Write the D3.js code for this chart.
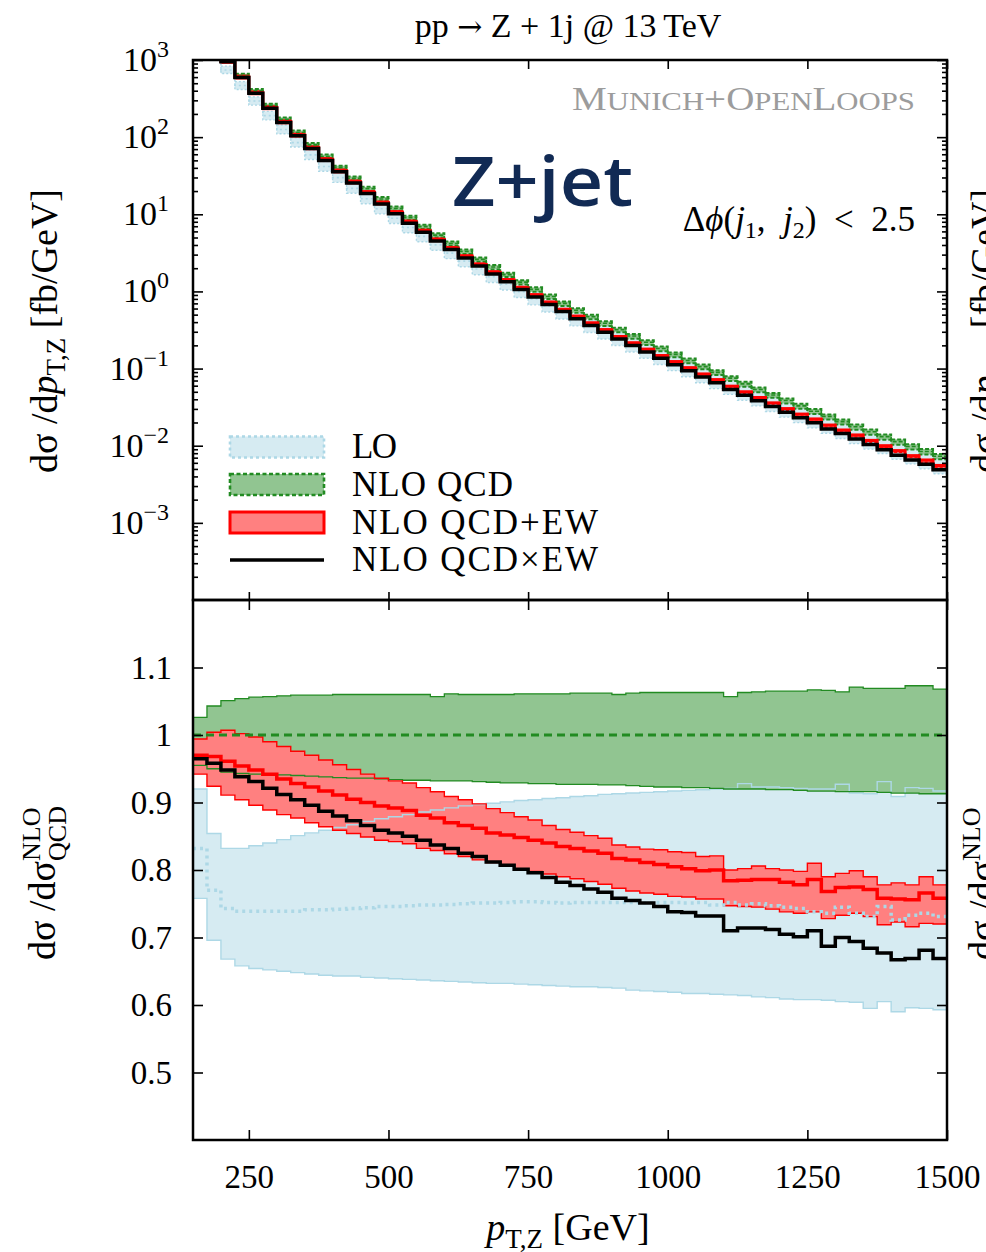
<!DOCTYPE html>
<html>
<head>
<meta charset="utf-8">
<title>pp -> Z + 1j @ 13 TeV</title>
<script src="https://cdn.jsdelivr.net/npm/d3@7"></script>
<style>
  body { margin: 0; background: #ffffff; }
  svg { display: block; }
  text { font-family: "Liberation Serif", "Times New Roman", serif; fill: #000; }
  .axis path.domain { display: none; }
  .axis line { stroke: #000; stroke-width: 1.6; }
  .axis text { font-size: 33px; font-family: "Liberation Serif", serif; fill: #000; }
</style>
</head>
<body>
<script>
// pT,Z bin edges [GeV], 25 GeV bins
const bin_edges = [150, 175, 200, 225, 250, 275, 300, 325, 350, 375,
  400, 425, 450, 475, 500, 525, 550, 575, 600, 625,
  650, 675, 700, 725, 750, 775, 800, 825, 850, 875,
  900, 925, 950, 975, 1000, 1025, 1050, 1075, 1100, 1125,
  1150, 1175, 1200, 1225, 1250, 1275, 1300, 1325, 1350, 1375,
  1400, 1425, 1450, 1475, 1500];

// NLO QCD central prediction dsigma/dpT,Z [fb/GeV]
const nlo_qcd_xs = [2820, 1660, 1000, 631, 398, 257, 170, 115, 79.4, 56.2,
  40.3, 29.2, 21.4, 15.8, 11.9, 9.02, 6.92, 5.37, 4.19, 3.29,
  2.60, 2.07, 1.65, 1.32, 1.064, 0.861, 0.700, 0.571, 0.469, 0.386,
  0.319, 0.264, 0.219, 0.182, 0.152, 0.127, 0.106, 0.0893, 0.0752, 0.0634,
  0.0536, 0.0454, 0.0385, 0.0328, 0.0280, 0.0239, 0.0205, 0.0176, 0.0152, 0.0131,
  0.0113, 0.00975, 0.00843, 0.00731];

// everything below is a ratio to NLO QCD central
const nlo_qcd_up = [1.026, 1.043, 1.051, 1.054, 1.056, 1.057, 1.058, 1.059, 1.059, 1.059,
  1.060, 1.060, 1.060, 1.060, 1.060, 1.060, 1.060, 1.057, 1.061, 1.060,
  1.060, 1.060, 1.060, 1.061, 1.061, 1.061, 1.061, 1.062, 1.062, 1.062,
  1.060, 1.062, 1.063, 1.063, 1.063, 1.063, 1.063, 1.063, 1.057, 1.063,
  1.064, 1.065, 1.065, 1.065, 1.067, 1.066, 1.064, 1.071, 1.069, 1.069,
  1.069, 1.073, 1.073, 1.068];
const nlo_qcd_dn = [0.955, 0.950, 0.945, 0.943, 0.942, 0.942, 0.941, 0.940, 0.939, 0.938,
  0.937, 0.936, 0.936, 0.935, 0.934, 0.933, 0.933, 0.932, 0.932, 0.932,
  0.931, 0.930, 0.929, 0.929, 0.928, 0.928, 0.927, 0.927, 0.927, 0.926,
  0.926, 0.925, 0.924, 0.923, 0.923, 0.922, 0.922, 0.921, 0.920, 0.920,
  0.920, 0.919, 0.919, 0.918, 0.917, 0.917, 0.916, 0.916, 0.916, 0.915,
  0.914, 0.914, 0.913, 0.913];

const lo_ratio = [0.832, 0.770, 0.743, 0.739, 0.739, 0.739, 0.739, 0.739, 0.741, 0.741,
  0.742, 0.743, 0.744, 0.746, 0.746, 0.747, 0.748, 0.748, 0.749, 0.750,
  0.751, 0.751, 0.752, 0.753, 0.753, 0.752, 0.751, 0.752, 0.752, 0.752,
  0.752, 0.752, 0.751, 0.752, 0.752, 0.751, 0.752, 0.748, 0.752, 0.748,
  0.750, 0.747, 0.745, 0.743, 0.738, 0.736, 0.745, 0.736, 0.731, 0.746,
  0.726, 0.733, 0.736, 0.731];
const lo_up = [0.920, 0.854, 0.832, 0.832, 0.836, 0.840, 0.845, 0.851, 0.855, 0.859,
  0.863, 0.867, 0.872, 0.876, 0.879, 0.882, 0.886, 0.889, 0.892, 0.895,
  0.897, 0.899, 0.901, 0.903, 0.904, 0.906, 0.907, 0.909, 0.910, 0.912,
  0.913, 0.914, 0.915, 0.916, 0.917, 0.918, 0.919, 0.920, 0.921, 0.928,
  0.923, 0.923, 0.922, 0.921, 0.920, 0.920, 0.927, 0.914, 0.913, 0.931,
  0.909, 0.922, 0.921, 0.917];
const lo_dn = [0.758, 0.696, 0.668, 0.658, 0.654, 0.652, 0.650, 0.648, 0.646, 0.644,
  0.643, 0.643, 0.641, 0.640, 0.639, 0.638, 0.637, 0.636, 0.635, 0.634,
  0.633, 0.632, 0.632, 0.631, 0.630, 0.629, 0.628, 0.627, 0.627, 0.626,
  0.625, 0.622, 0.621, 0.620, 0.619, 0.617, 0.617, 0.616, 0.615, 0.614,
  0.612, 0.611, 0.609, 0.608, 0.608, 0.607, 0.605, 0.604, 0.595, 0.605,
  0.590, 0.596, 0.595, 0.593];

// NLO QCD+EW (additive)
const qcd_ew_sum = [0.970, 0.968, 0.961, 0.954, 0.948, 0.942, 0.935, 0.928, 0.923, 0.917,
  0.911, 0.905, 0.900, 0.895, 0.892, 0.888, 0.881, 0.877, 0.870, 0.866,
  0.862, 0.855, 0.852, 0.848, 0.844, 0.840, 0.835, 0.832, 0.828, 0.825,
  0.817, 0.815, 0.811, 0.808, 0.805, 0.802, 0.799, 0.800, 0.784, 0.785,
  0.786, 0.786, 0.782, 0.778, 0.786, 0.768, 0.774, 0.775, 0.771, 0.758,
  0.757, 0.756, 0.766, 0.758];
const qcd_ew_sum_up = [0.994, 1.004, 1.007, 1.002, 0.997, 0.990, 0.983, 0.976, 0.970, 0.963,
  0.956, 0.949, 0.942, 0.936, 0.932, 0.929, 0.922, 0.916, 0.909, 0.904,
  0.898, 0.891, 0.885, 0.879, 0.874, 0.866, 0.860, 0.856, 0.851, 0.847,
  0.837, 0.834, 0.831, 0.830, 0.827, 0.826, 0.820, 0.821, 0.800, 0.802,
  0.806, 0.802, 0.800, 0.798, 0.810, 0.790, 0.795, 0.799, 0.790, 0.778,
  0.781, 0.778, 0.790, 0.778];
const qcd_ew_sum_dn = [0.942, 0.924, 0.911, 0.904, 0.896, 0.889, 0.882, 0.877, 0.870, 0.864,
  0.859, 0.854, 0.849, 0.844, 0.842, 0.839, 0.832, 0.829, 0.824, 0.820,
  0.815, 0.811, 0.807, 0.802, 0.798, 0.794, 0.790, 0.787, 0.783, 0.779,
  0.773, 0.769, 0.766, 0.764, 0.761, 0.760, 0.757, 0.757, 0.747, 0.746,
  0.745, 0.742, 0.738, 0.736, 0.738, 0.728, 0.733, 0.736, 0.731, 0.719,
  0.723, 0.716, 0.721, 0.720];

// NLO QCDxEW (multiplicative)
const qcd_ew_prod = [0.965, 0.958, 0.948, 0.938, 0.931, 0.921, 0.912, 0.904, 0.896, 0.887,
  0.880, 0.873, 0.866, 0.859, 0.855, 0.850, 0.844, 0.837, 0.832, 0.825,
  0.820, 0.812, 0.807, 0.801, 0.796, 0.789, 0.782, 0.777, 0.772, 0.767,
  0.758, 0.755, 0.751, 0.746, 0.738, 0.737, 0.732, 0.732, 0.710, 0.714,
  0.714, 0.712, 0.705, 0.701, 0.710, 0.687, 0.700, 0.694, 0.684, 0.677,
  0.667, 0.669, 0.681, 0.669];

// ticks and labels
const x_ticks = [250, 500, 750, 1000, 1250, 1500];
const xs_ticks = [1e-3, 1e-2, 1e-1, 1, 10, 100, 1000];
const ratio_ticks = [0.5, 0.6, 0.7, 0.8, 0.9, 1, 1.1];
const legend_labels = ["LO", "NLO QCD", "NLO QCD+EW", "NLO QCD\u00d7EW"];


const W = 986, H = 1252;
const frame = { left: 193, right: 947, top: 60, mid: 600, bottom: 1140 };
const colors = {
  lo_fill: "#d6ebf2", lo_line: "#add8e6",
  qcd_fill: "#91c591", qcd_line: "#228b22",
  ew_fill: "#ff8080", ew_line: "#ff0000",
  prod_line: "#000000"
};

const svg = d3.select("body").append("svg")
  .attr("width", W)
  .attr("height", H);

const x = d3.scaleLinear().domain([150, 1500]).range([frame.left, frame.right]);
const y_xs = d3.scaleLog().domain([1e-4, 1e3]).range([frame.mid, frame.top]);
const y_ratio = d3.scaleLinear().domain([0.4, 1.2]).range([frame.bottom, frame.mid]);

const defs = svg.append("defs");
defs.append("clipPath").attr("id", "clip_top").append("rect")
  .attr("x", frame.left).attr("y", frame.top)
  .attr("width", frame.right - frame.left).attr("height", frame.mid - frame.top);
defs.append("clipPath").attr("id", "clip_bot").append("rect")
  .attr("x", frame.left).attr("y", frame.mid)
  .attr("width", frame.right - frame.left).attr("height", frame.bottom - frame.mid);

// per-bin values -> points for a step curve (last bin closed at upper edge)
function step_points(values) {
  const pts = values.map((v, i) => ({ x: bin_edges[i], v: v }));
  pts.push({ x: bin_edges[values.length], v: values[values.length - 1] });
  return pts;
}
function band_points(lo, hi) {
  const pts = lo.map((v, i) => ({ x: bin_edges[i], lo: v, hi: hi[i] }));
  pts.push({ x: bin_edges[lo.length], lo: lo[lo.length - 1], hi: hi[hi.length - 1] });
  return pts;
}
const nlo_qcd_ratio = nlo_qcd_xs.map(() => 1);
const times_xs = ratio => nlo_qcd_xs.map((v, i) => v * ratio[i]);

const series = [
  { name: "lo", lo: lo_dn, hi: lo_up, mid: lo_ratio, fill: colors.lo_fill, line: colors.lo_line,
    bw: 1.4, mw: 3.5, mdash: "3,4", box_dash: "2,2" },
  { name: "qcd", lo: nlo_qcd_dn, hi: nlo_qcd_up, mid: nlo_qcd_ratio, fill: colors.qcd_fill, line: colors.qcd_line,
    bw: 1.3, mw: 3, mdash: "8,5", box_dash: "4,2" },
  { name: "ew_sum", lo: qcd_ew_sum_dn, hi: qcd_ew_sum_up, mid: qcd_ew_sum, fill: colors.ew_fill, line: colors.ew_line,
    bw: 1.4, mw: 3.5, mdash: null, box_dash: null }
];

// ---------- lower panel: ratio to NLO QCD ----------
const ratio_line = d3.line().x(d => x(d.x)).y(d => y_ratio(d.v)).curve(d3.curveStepAfter);
const ratio_area = d3.area().x(d => x(d.x))
  .y0(d => y_ratio(d.lo)).y1(d => y_ratio(d.hi)).curve(d3.curveStepAfter);

const bot = svg.append("g").attr("clip-path", "url(#clip_bot)");
series.forEach(s => {
  bot.append("path").datum(band_points(s.lo, s.hi))
    .attr("class", s.name + "_band")
    .attr("d", ratio_area).attr("fill", s.fill);
});
series.forEach(s => {
  [s.lo, s.hi].forEach(edge => {
    bot.append("path").datum(step_points(edge))
      .attr("d", ratio_line).attr("fill", "none")
      .attr("stroke", s.line).attr("stroke-width", s.bw);
  });
});
series.forEach(s => {
  bot.append("path").datum(step_points(s.mid))
    .attr("d", ratio_line).attr("fill", "none")
    .attr("stroke", s.line).attr("stroke-width", s.mw)
    .attr("stroke-dasharray", s.mdash);
});
bot.append("path").datum(step_points(qcd_ew_prod))
  .attr("d", ratio_line).attr("fill", "none")
  .attr("stroke", colors.prod_line).attr("stroke-width", 3.5);

// ---------- upper panel: absolute distribution ----------
const xs_line = d3.line().x(d => x(d.x)).y(d => y_xs(d.v)).curve(d3.curveStepAfter);
const top_g = svg.append("g").attr("clip-path", "url(#clip_top)");
series.forEach(s => {
  top_g.append("g").attr("class", s.name + "_boxes")
    .selectAll("rect").data(nlo_qcd_xs).join("rect")
    .attr("x", (d, i) => x(bin_edges[i]))
    .attr("width", (d, i) => x(bin_edges[i + 1]) - x(bin_edges[i]))
    .attr("y", (d, i) => y_xs(d * s.hi[i]))
    .attr("height", (d, i) => y_xs(d * s.lo[i]) - y_xs(d * s.hi[i]))
    .attr("fill", s.fill)
    .attr("stroke", s.line)
    .attr("stroke-width", s.name === "qcd" ? 2 : 1.4)
    .attr("stroke-dasharray", s.box_dash);
});
series.forEach(s => {
  top_g.append("path").datum(step_points(times_xs(s.mid)))
    .attr("d", xs_line).attr("fill", "none")
    .attr("stroke", s.line)
    .attr("stroke-width", s.name === "ew_sum" ? 3 : 1.6)
    .attr("stroke-dasharray", s.name === "lo" ? "2,3" : s.name === "qcd" ? "4,2" : null);
});
top_g.append("path").datum(step_points(times_xs(qcd_ew_prod)))
  .attr("d", xs_line).attr("fill", "none")
  .attr("stroke", colors.prod_line).attr("stroke-width", 3.5);

// ---------- axes ----------
function add_axis(axis, tx, ty) {
  return svg.append("g").attr("class", "axis")
    .attr("transform", "translate(" + tx + "," + ty + ")")
    .call(axis);
}
// upper panel
const minor_ticks = y_xs.ticks().filter(v => xs_ticks.indexOf(v) < 0 && v > 1e-4 && v < 1e3);
const left_log = add_axis(d3.axisLeft(y_xs).tickValues(xs_ticks).tickSizeInner(-10)
  .tickSizeOuter(0).tickPadding(24).tickFormat(() => ""), frame.left, 0);
left_log.selectAll(".tick text").each(function (d) {
  const t = d3.select(this);
  const e = Math.round(Math.log10(d));
  t.append("tspan").attr("font-size", 34).text("10");
  t.append("tspan").attr("dy", -14).attr("font-size", 24)
    .text(e < 0 ? "\u2212" + Math.abs(e) : String(e));
});
add_axis(d3.axisLeft(y_xs).tickValues(minor_ticks).tickSizeInner(-5)
  .tickSizeOuter(0).tickFormat(""), frame.left, 0);
add_axis(d3.axisRight(y_xs).tickValues(xs_ticks).tickSizeInner(-10)
  .tickSizeOuter(0).tickFormat(""), frame.right, 0);
add_axis(d3.axisRight(y_xs).tickValues(minor_ticks).tickSizeInner(-5)
  .tickSizeOuter(0).tickFormat(""), frame.right, 0);
add_axis(d3.axisTop(x).tickValues(x_ticks).tickSizeInner(-9)
  .tickSizeOuter(0).tickFormat(""), 0, frame.top);
add_axis(d3.axisBottom(x).tickValues(x_ticks).tickSizeInner(-8)
  .tickSizeOuter(0).tickFormat(""), 0, frame.mid);

// lower panel
add_axis(d3.axisTop(x).tickValues(x_ticks).tickSizeInner(-10)
  .tickSizeOuter(0).tickFormat(""), 0, frame.mid);
add_axis(d3.axisBottom(x).tickValues(x_ticks).tickSizeInner(-10)
  .tickSizeOuter(0).tickPadding(25).tickFormat(d3.format("d")), 0, frame.bottom);
add_axis(d3.axisLeft(y_ratio).tickValues(ratio_ticks).tickSizeInner(-10)
  .tickSizeOuter(0).tickPadding(21)
  .tickFormat(d => d === 1 ? "1" : d3.format(".1f")(d)), frame.left, 0);
add_axis(d3.axisRight(y_ratio).tickValues(ratio_ticks).tickSizeInner(-10)
  .tickSizeOuter(0).tickFormat(""), frame.right, 0);

// frames
[[frame.top, frame.mid], [frame.mid, frame.bottom]].forEach(p => {
  svg.append("rect")
    .attr("x", frame.left).attr("y", p[0])
    .attr("width", frame.right - frame.left).attr("height", p[1] - p[0])
    .attr("fill", "none").attr("stroke", "#000").attr("stroke-width", 2.5);
});

// ---------- legend ----------
const legend = svg.append("g").attr("class", "legend");
const leg_y = [447, 484.5, 522.5, 560];
legend_labels.forEach((lab, i) => {
  const cy = leg_y[i];
  if (i < 3) {
    const s = series[i];
    legend.append("rect")
      .attr("x", 230).attr("y", cy - 10.5).attr("width", 94).attr("height", 21)
      .attr("fill", s.fill).attr("stroke", s.line)
      .attr("stroke-width", i === 2 ? 3 : 2.6)
      .attr("stroke-dasharray", i === 0 ? "3,3" : i === 1 ? "4,2.5" : null);
  } else {
    legend.append("line")
      .attr("x1", 230).attr("x2", 324).attr("y1", cy).attr("y2", cy)
      .attr("stroke", colors.prod_line).attr("stroke-width", 3.5);
  }
  legend.append("text")
    .attr("x", 352).attr("y", cy + 11)
    .attr("font-size", 35)
    .attr("textLength", [45, 161, 246, 246][i]).attr("lengthAdjust", "spacing")
    .text(lab);
});

// ---------- texts ----------
const title = svg.append("text")
  .attr("x", 568).attr("y", 37)
  .attr("text-anchor", "middle").attr("font-size", 34);
title.append("tspan").text("pp ");
title.append("tspan").attr("font-family", "'DejaVu Serif', serif").attr("font-size", 30).text("\u2192");
title.append("tspan").text(" Z + 1j @ 13\u2009TeV");

const munich = svg.append("text")
  .attr("x", 915).attr("y", 110)
  .attr("text-anchor", "end")
  .style("fill", "#9c9c9c")
  .attr("textLength", 343).attr("lengthAdjust", "spacingAndGlyphs");
[["M", 33], ["UNICH", 26], ["+", 33], ["O", 33], ["PEN", 26], ["L", 33], ["OOPS", 26]]
  .forEach(p => munich.append("tspan").attr("font-size", p[1]).text(p[0]));

svg.append("text")
  .attr("x", 452).attr("y", 206)
  .style("font-family", "'Open Sans', Lato, sans-serif")
  .attr("font-weight", 600)
  .attr("font-size", 68)
  .attr("textLength", 181).attr("lengthAdjust", "spacingAndGlyphs")
  .style("fill", "#112a54")
  .text("Z+jet");

const dphi = svg.append("text")
  .attr("x", 915).attr("y", 231)
  .attr("text-anchor", "end").attr("font-size", 35);
dphi.append("tspan").text("\u0394");
dphi.append("tspan").attr("font-style", "italic").text("\u03d5");
dphi.append("tspan").text("(");
dphi.append("tspan").attr("font-style", "italic").text("j");
dphi.append("tspan").attr("font-size", 24).attr("dy", 7).text("1");
dphi.append("tspan").attr("dy", -7).text(",\u2002");
dphi.append("tspan").attr("font-style", "italic").text("j");
dphi.append("tspan").attr("font-size", 24).attr("dy", 7).text("2");
dphi.append("tspan").attr("dy", -7).text(")\u2002<\u20022.5");

// axis titles
function xs_title(cx, cy) {
  const t = svg.append("text")
    .attr("transform", "translate(" + cx + "," + cy + ") rotate(-90)")
    .attr("text-anchor", "middle").attr("font-size", 38);
  t.append("tspan").text("d\u03c3 /d");
  t.append("tspan").attr("font-style", "italic").text("p");
  t.append("tspan").attr("font-size", 27).attr("dy", 8).text("T,Z");
  t.append("tspan").attr("dy", -8).text(" [fb/GeV]");
}
function ratio_title(cx, cy) {
  const g = svg.append("g")
    .attr("transform", "translate(" + cx + "," + cy + ") rotate(-90)");
  const t = g.append("text").attr("font-size", 38);
  t.append("tspan").text("d\u03c3 /d\u03c3");
  const sup = t.append("tspan").attr("font-size", 26).attr("dy", -15).text("NLO");
  const w = sup.node().getComputedTextLength();
  t.append("tspan").attr("font-size", 26).attr("dx", -w).attr("dy", 26).text("QCD");
  const bw = t.node().getBBox().width;
  t.attr("x", -bw / 2);
}
xs_title(57, 331);
ratio_title(55, 883);
// cut-off titles of the neighbouring panel at the right edge
xs_title(997, 331);
ratio_title(995, 883);

const xt = svg.append("text")
  .attr("x", 568).attr("y", 1240)
  .attr("text-anchor", "middle").attr("font-size", 38);
xt.append("tspan").attr("font-style", "italic").text("p");
xt.append("tspan").attr("font-size", 27).attr("dy", 8).text("T,Z");
xt.append("tspan").attr("dy", -8).text(" [GeV]");
</script>
</body>
</html>
